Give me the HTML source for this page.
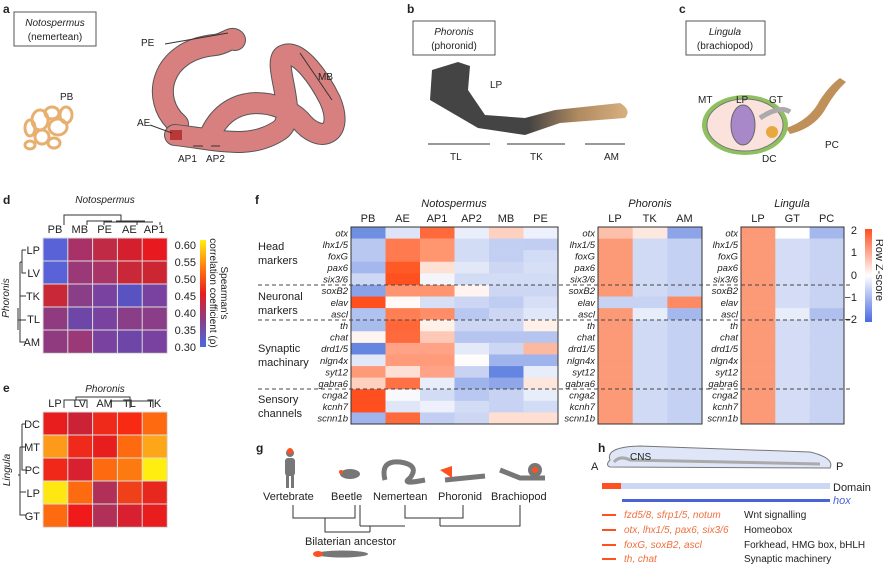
<!DOCTYPE html>
<html><head><meta charset="utf-8"><style>
body{margin:0;background:#fff}
svg{display:block;font-family:"Liberation Sans",sans-serif}
.it{font-style:italic}
</style></head><body>
<svg id="s" width="883" height="564" viewBox="0 0 883 564" xmlns="http://www.w3.org/2000/svg">
<defs>
<linearGradient id="cb1" x1="0" y1="0" x2="0" y2="1"><stop offset="0" stop-color="#ffee10"/><stop offset="0.3" stop-color="#fd6a10"/><stop offset="0.5" stop-color="#e81e1e"/><stop offset="0.75" stop-color="#8a3e88"/><stop offset="1" stop-color="#4a6ae0"/></linearGradient>
<linearGradient id="cb2" x1="0" y1="0" x2="0" y2="1"><stop offset="0" stop-color="#ff4f1f"/><stop offset="0.5" stop-color="#ffffff"/><stop offset="1" stop-color="#4a6ae0"/></linearGradient>
<linearGradient id="ph" x1="0" y1="0" x2="1" y2="0"><stop offset="0" stop-color="#444"/><stop offset="0.5" stop-color="#444"/><stop offset="0.75" stop-color="#b08a60"/><stop offset="1" stop-color="#d8b080"/></linearGradient>
</defs>
<g font-size="11" fill="#222">
<text x="3" y="13" font-weight="bold" font-size="12">a</text>
<rect x="14" y="12" width="82" height="34" fill="none" stroke="#555"/>
<text x="55" y="26" text-anchor="middle" class="it" font-size="10">Notospermus</text>
<text x="55" y="40" text-anchor="middle" font-size="10">(nemertean)</text>
<text x="60" y="100" font-size="10">PB</text>
<g fill="none" stroke="#e8b070" stroke-width="3">
<ellipse cx="40" cy="120" rx="8" ry="10"/><ellipse cx="52" cy="113" rx="7" ry="6"/><ellipse cx="58" cy="127" rx="9" ry="8"/><ellipse cx="42" cy="137" rx="7" ry="7"/><ellipse cx="30" cy="128" rx="5" ry="8"/><ellipse cx="66" cy="115" rx="6" ry="8"/><ellipse cx="54" cy="143" rx="6" ry="5"/><ellipse cx="30" cy="145" rx="5" ry="4"/>
</g>
<g fill="none" stroke-linecap="round">
<path d="M178 124 C150 100 160 50 215 45 C225 44 232 36 235 40" stroke="#555" stroke-width="22"/>
<path d="M178 124 C150 100 160 50 215 45 C225 44 232 36 235 40" stroke="#d88080" stroke-width="20"/>
<path d="M175 135 C220 140 250 150 280 130 C300 115 270 60 285 55 C300 50 320 80 330 100 C345 135 320 145 300 120 C280 100 230 90 210 135" stroke="#555" stroke-width="22"/>
<path d="M175 135 C220 140 250 150 280 130 C300 115 270 60 285 55 C300 50 320 80 330 100 C345 135 320 145 300 120 C280 100 230 90 210 135" stroke="#d88080" stroke-width="20"/>
</g>
<rect x="170" y="130" width="12" height="10" fill="#b83838"/>
<g stroke="#333"><line x1="165" y1="44" x2="228" y2="33"/><line x1="300" y1="53" x2="332" y2="100"/><line x1="193" y1="146" x2="203" y2="146"/><line x1="211" y1="146" x2="220" y2="146"/><line x1="150" y1="125" x2="172" y2="133"/></g>
<text x="141" y="46" font-size="10">PE</text><text x="318" y="80" font-size="10">MB</text>
<text x="137" y="126" font-size="10">AE</text><text x="178" y="162" font-size="10">AP1</text><text x="206" y="162" font-size="10">AP2</text>
<text x="407" y="13" font-weight="bold" font-size="12">b</text>
<rect x="413" y="21" width="82" height="34" fill="none" stroke="#555"/>
<text x="454" y="35" text-anchor="middle" class="it" font-size="10">Phoronis</text>
<text x="454" y="49" text-anchor="middle" font-size="10">(phoronid)</text>
<path d="M430 100 L432 70 L458 62 L470 66 L468 90 L485 115 L525 118 L555 110 L620 103 Q632 110 625 118 L560 123 L525 135 L478 128 Z" fill="url(#ph)"/>
<text x="490" y="88" font-size="10">LP</text>
<g stroke="#333"><line x1="428" y1="144" x2="490" y2="144"/><line x1="507" y1="144" x2="565" y2="144"/><line x1="585" y1="144" x2="625" y2="144"/></g>
<text x="450" y="160" font-size="10">TL</text><text x="530" y="160" font-size="10">TK</text><text x="604" y="160" font-size="10">AM</text>
<text x="679" y="13" font-weight="bold" font-size="12">c</text>
<rect x="686" y="21" width="79" height="34" fill="none" stroke="#555"/>
<text x="725" y="35" text-anchor="middle" class="it" font-size="10">Lingula</text>
<text x="725" y="49" text-anchor="middle" font-size="10">(brachiopod)</text>
<path d="M786 128 Q810 120 820 100 Q830 85 840 78 L846 82 Q835 92 826 108 Q815 128 790 134 Z" fill="#c0905a"/>
<ellipse cx="745" cy="125" rx="43" ry="30" fill="#8fc060"/>
<ellipse cx="745" cy="125" rx="38" ry="26" fill="#fbe2dc" stroke="#777"/>
<ellipse cx="743" cy="125" rx="12" ry="20" fill="#a888c8" stroke="#666"/>
<path d="M760 118 Q780 105 790 112" stroke="#aaa" stroke-width="5" fill="none"/>
<circle cx="772" cy="132" r="6" fill="#e8a840"/>
<text x="698" y="103" font-size="10">MT</text><text x="736" y="103" font-size="10">LP</text><text x="769" y="103" font-size="10">GT</text><text x="762" y="162" font-size="10">DC</text><text x="825" y="148" font-size="10">PC</text>
</g>
<g id="dyn" font-size="11" fill="#222"></g>
<g fill="#222" font-size="11">
<text x="3" y="204" font-weight="bold" font-size="12">d</text>
<text x="105" y="203" text-anchor="middle" class="it" font-size="10">Notospermus</text>
<path d="M64 225 V215 H121 V221 M87 225 V221 H112 M104 225 V222 H153 M137 222 V225 M116 221 H145 M160 225 V222" stroke="#333" fill="none"/>
<text transform="translate(9,298) rotate(-90)" text-anchor="middle" class="it" font-size="10">Phoronis</text>
<path d="M22 250 H26 M22 250 V273 H26 M20 262 H22 M20 262 V320 H18 M20 296 H26 M20 320 H26 M20 320 V342 H26 M18 308 V330" stroke="#333" fill="none"/>
<text x="3" y="392" font-weight="bold" font-size="12">e</text>
<text x="105" y="392" text-anchor="middle" class="it" font-size="10">Phoronis</text>
<path d="M64 408 V400 H87 V408 M76 400 V397 H130 V401 M111 408 V401 H153 V408 M130 401 V408" stroke="#333" fill="none"/>
<text transform="translate(10,470) rotate(-90)" text-anchor="middle" class="it" font-size="10">Lingula</text>
<path d="M22 424 H26 M22 424 V470 H26 M22 447 H26 M20 447 H22 M20 447 V504 M20 492 H26 M20 492 V515 H26 M18 475 H20" stroke="#333" fill="none"/>
<rect x="200" y="240" width="6" height="107" fill="url(#cb1)"/>
<text transform="translate(221,293) rotate(90)" text-anchor="middle" font-size="10">Spearman's</text>
<text transform="translate(210,293) rotate(90)" text-anchor="middle" font-size="10">correlation coefficient (ρ)</text>
<text x="255" y="204" font-weight="bold" font-size="12">f</text>
<text x="454" y="207" text-anchor="middle" class="it">Notospermus</text>
<text x="650" y="207" text-anchor="middle" class="it">Phoronis</text>
<text x="792" y="207" text-anchor="middle" class="it">Lingula</text>
<text x="258" y="250">Head</text><text x="258" y="264">markers</text>
<text x="258" y="300">Neuronal</text><text x="258" y="314">markers</text>
<text x="258" y="352">Synaptic</text><text x="258" y="366">machinary</text>
<text x="258" y="403">Sensory</text><text x="258" y="417">channels</text>
<rect x="865" y="229" width="7" height="93" fill="url(#cb2)"/>
<text x="857" y="234" text-anchor="end">2</text><text x="857" y="256" text-anchor="end">1</text><text x="857" y="279" text-anchor="end">0</text><text x="857" y="301" text-anchor="end">−1</text><text x="857" y="323" text-anchor="end">−2</text>
<text transform="translate(876,270) rotate(90)" text-anchor="middle">Row Z-score</text>
<text x="256" y="452" font-weight="bold" font-size="12">g</text>
<g fill="#777"><circle cx="290" cy="453" r="4"/><rect x="285" y="458" width="10" height="18" rx="3"/><rect x="286" y="474" width="3" height="14"/><rect x="291" y="474" width="3" height="14"/></g>
<circle cx="290" cy="451" r="3" fill="#ff5020"/>
<ellipse cx="350" cy="474" rx="10" ry="5" fill="#777"/><circle cx="341" cy="472" r="2" fill="#ff5020"/>
<path d="M385 480 Q380 460 400 462 Q420 465 410 478 Q400 485 425 480" stroke="#777" stroke-width="5" fill="none"/>
<path d="M445 480 L485 476" stroke="#777" stroke-width="5"/><path d="M440 470 L452 466 L452 478 Z" fill="#ff5020"/>
<path d="M500 470 L520 478 L545 478" stroke="#777" stroke-width="5" fill="none"/><circle cx="535" cy="470" r="7" fill="#777"/><circle cx="535" cy="470" r="3" fill="#ff5020"/>
<text x="263" y="500">Vertebrate</text><text x="331" y="500">Beetle</text><text x="373" y="500">Nemertean</text><text x="438" y="500">Phoronid</text><text x="491" y="500">Brachiopod</text>
<path d="M293 505 V518 H355 V505 M325 518 V532 H370 M360 526 V505 M360 526 H405 M405 505 V518 H463 V505 M440 518 V526 M440 526 H520 V505 M370 532 V526" stroke="#333" fill="none"/>
<text x="305" y="545">Bilaterian ancestor</text>
<ellipse cx="342" cy="554" rx="26" ry="3.5" fill="#777"/><ellipse cx="318" cy="554" rx="5" ry="3" fill="#ff5020"/>
<text x="598" y="452" font-weight="bold" font-size="12">h</text>
<path d="M610 460 Q605 447 640 446 L810 452 Q835 458 830 468 L610 467 Q605 465 610 460 Z" fill="#dfe6f8" stroke="#777"/>
<path d="M614 462 Q620 455 630 460 L820 464" stroke="#aaa" stroke-width="3" fill="none"/>
<text x="630" y="460" font-size="10">CNS</text>
<text x="591" y="470">A</text><text x="836" y="470">P</text>
<rect x="602" y="483" width="19" height="6" fill="#ff5020"/><rect x="621" y="483" width="209" height="6" fill="#cdd7f4"/>
<text x="833" y="491">Domain</text>
<rect x="622" y="499" width="208" height="3" fill="#4a62d8"/>
<text x="833" y="504" class="it" fill="#4a62d8">hox</text>
<g fill="#ff5020"><rect x="602" y="514" width="14" height="2"/><rect x="602" y="529" width="14" height="2"/><rect x="602" y="544" width="14" height="2"/><rect x="602" y="558" width="14" height="2"/></g>
<g class="it" fill="#f07040" font-size="10"><text x="624" y="518">fzd5/8, sfrp1/5, notum</text><text x="624" y="533">otx, lhx1/5, pax6, six3/6</text><text x="624" y="548">foxG, soxB2, ascl</text><text x="624" y="562">th, chat</text></g>
<g font-size="10"><text x="744" y="518">Wnt signalling</text><text x="744" y="533">Homeobox</text><text x="744" y="548">Forkhead, HMG box, bHLH</text><text x="744" y="562">Synaptic machinery</text></g>
</g>
</svg>
<script>
var g=document.getElementById('dyn'),NS='http://www.w3.org/2000/svg';
function el(t,a,txt){var e=document.createElementNS(NS,t);for(var k in a)e.setAttribute(k,a[k]);if(txt!=null)e.textContent=txt;g.appendChild(e);return e;}
function heat(x0,y0,cw,ch,rows,stroke){rows.forEach(function(r,i){r.forEach(function(c,j){el('rect',{x:x0+j*cw,y:y0+i*ch,width:cw+0.3,height:ch+0.3,fill:c,stroke:stroke||'none','stroke-width':stroke?1:0});});});}
var d=[["#5a62d8","#a83268","#c02a45","#d4202e","#e81a20"],["#5a62d8","#9a3878","#a83468","#c82838","#cc2632"],["#c82838","#8a3e88","#7a42a0","#5a52c0","#7a42a0"],["#903a80","#6e46a8","#7a42a0","#8a3e88","#8a3e88"],["#903a80","#9a3878","#7a42a0","#6e46a8","#7a42a0"]];
heat(43,238,24.8,23,d,'#ddd');
["PB","MB","PE","AE","AP1"].forEach(function(t,i){el('text',{x:55+i*24.8,y:233,'text-anchor':'middle'},t)});
["LP","LV","TK","TL","AM"].forEach(function(t,i){el('text',{x:40,y:254+i*23,'text-anchor':'end'},t)});
["0.60","0.55","0.50","0.45","0.40","0.35","0.30"].forEach(function(t,i){el('text',{x:196,y:249+i*17,'text-anchor':'end'},t)});
var e=[["#e81e1e","#cc2235","#f02a1a","#f82a14","#fd6a10"],["#fd9a1a","#f02a1a","#e81e1e","#fd6a10","#fda61a"],["#f0281a","#d82030","#fd6a10","#fd7a10","#ffee10"],["#ffe812","#fd6a10","#b03058","#f0401a","#e8281e"],["#fd6a10","#f01a1a","#b03058","#d82030","#e81e1e"]];
heat(43,412,24.8,23,e,'#ddd');
["LP","LV","AM","TL","TK"].forEach(function(t,i){el('text',{x:55+i*24.8,y:407,'text-anchor':'middle'},t)});
["DC","MT","PC","LP","GT"].forEach(function(t,i){el('text',{x:40,y:428+i*23,'text-anchor':'end'},t)});
var genes=["otx","lhx1/5","foxG","pax6","six3/6","soxB2","elav","ascl","th","chat","drd1/5","nlgn4x","syt12","gabra6","cnga2","kcnh7","scnn1b"];
var N=[["#6f8fe0","#dde4f7","#ff6a3d","#eaeefa","#fdd0bf","#eef1fb"],["#b8c8f0","#ff7a4f","#ff9670","#d2dcf5","#c3cff2","#c1cef2"],["#b8c8f0","#ff7a4f","#ff9670","#d2dcf5","#c3cff2","#d2dcf5"],["#a5b8ee","#ff5a26","#ffe0d5","#e3e8f8","#cdd7f4","#d6dff6"],["#cdd8f4","#ff5020","#f4f5fb","#d2dcf5","#d2dcf5","#d2dcf5"],["#8aa2e8","#ff9470","#ff9470","#fff4ef","#cdd7f4","#cdd7f4"],["#ff4f1f","#fffaf7","#d6dff6","#ccd6f4","#bfcdf2","#d6dff6"],["#b0c2f0","#ff7f55","#ff8d68","#b8c8f0","#cdd7f4","#e0e7f8"],["#a9bcee","#ff6638","#fff0ea","#cdd7f4","#cdd7f4","#fff0ea"],["#fff5f0","#ff6a3d","#fdc8b5","#b5c5f0","#b5c5f0","#b5c5f0"],["#6486e0","#ffa285","#ffa285","#e5eaf9","#cdd7f4","#fdb9a0"],["#e3e8f8","#ff9a7a","#ff9a7a","#fffdfc","#9fb3ec","#9fb3ec"],["#ff9a78","#fde0d5","#ffa285","#c8d3f4","#6486e0","#e8edfa"],["#fdd0bf","#ff7045","#e8edfa","#9fb3ec","#8fa6e8","#fde6dc"],["#ff4f1f","#f8f9fd","#d2dcf5","#b8c8f0","#c8d3f4","#e8edfa"],["#ff4f1f","#dfe6f8","#eef1fb","#d2dcf5","#c8d3f4","#d2dcf5"],["#9fb3ec","#ff6a3d","#c3cff2","#cdd7f4","#fedfd2","#fedfd2"]];
var rh=197/17;
heat(351,227,34.5,rh,N);
var P=[],L=[];
genes.forEach(function(gn,i){
 if(i==0){P.push(["#fcc0aa","#fde8df","#8da4e8"]);L.push(["#fc9a78","#ffffff","#a5b8ee"]);}
 else if(gn=="elav"){P.push(["#c8d3f4","#c8d3f4","#fc8a65"]);L.push(["#fc9a78","#d4ddf5","#c8d3f4"]);}
 else if(gn=="ascl"){P.push(["#fc9a78","#e8edfa","#a5b8ee"]);L.push(["#fc9a78","#e8edfa","#b0c0ee"]);}
 else {P.push(["#fc9a78","#d0daf5","#c5d1f3"]);L.push(["#fc9a78","#d4ddf5","#c8d3f4"]);}
});
heat(598,227,34.7,rh,P);heat(741,227,34.3,rh,L);
[[351,207],[598,104],[741,103]].forEach(function(b){el('rect',{x:b[0],y:227,width:b[1],height:197,fill:'none',stroke:'#333'})});
["PB","AE","AP1","AP2","MB","PE"].forEach(function(t,i){el('text',{x:368+i*34.5,y:222,'text-anchor':'middle'},t)});
["LP","TK","AM"].forEach(function(t,i){el('text',{x:615+i*34.7,y:222,'text-anchor':'middle'},t)});
["LP","GT","PC"].forEach(function(t,i){el('text',{x:758+i*34.3,y:222,'text-anchor':'middle'},t)});
genes.forEach(function(t,i){[348,595,738].forEach(function(x){el('text',{x:x,y:227+(i+0.5)*rh+3.5,'text-anchor':'end','font-style':'italic','font-size':'9.5'},t)})});
[285,320,389].forEach(function(y){el('line',{x1:258,y1:y,x2:850,y2:y,stroke:'#444','stroke-dasharray':'4,3'})});
</script>
</body></html>
